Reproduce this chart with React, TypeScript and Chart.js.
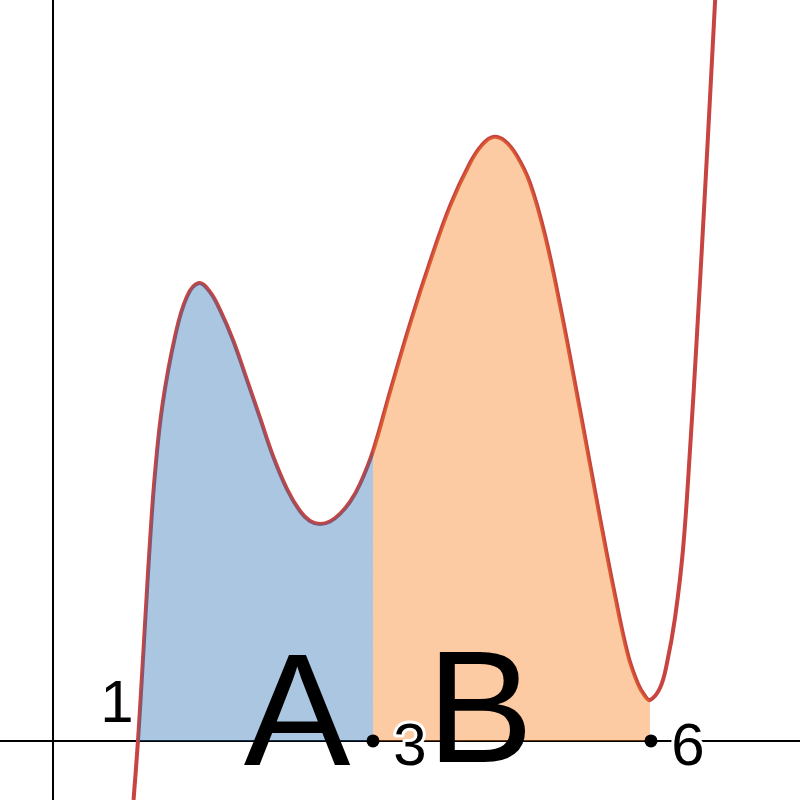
import { useEffect, useRef } from "react";
import { Chart, registerables } from "chart.js";

Chart.register(...registerables);

// Curve (data units: x=3 and x=6 at the two marked dots, equal y units)
const curveX = [
  0.416, 0.464, 0.507, 0.55, 0.594, 0.648, 0.728, 0.863, 0.993, 1.122, 1.241, 1.349,
  1.489, 1.64, 1.781, 1.921, 2.072, 2.212, 2.32, 2.428, 2.536, 2.644, 2.752, 2.86,
  3.0, 3.183, 3.399, 3.615, 3.831, 4.047, 4.176, 4.295, 4.424, 4.554, 4.694, 4.856,
  5.018, 5.234, 5.45, 5.611, 5.752, 5.86, 5.935, 5.989, 6.097, 6.173, 6.259, 6.345,
  6.421, 6.496, 6.572, 6.647, 6.712,
];
const curveY = [
  -0.637, 0, 0.701, 1.435, 2.158, 2.892, 3.626, 4.36, 4.797, 4.942, 4.845, 4.651,
  4.327, 3.896, 3.486, 3.075, 2.719, 2.482, 2.374, 2.342, 2.369, 2.45, 2.579, 2.773,
  3.129, 3.766, 4.5, 5.169, 5.773, 6.237, 6.431, 6.518, 6.475, 6.313, 6.021, 5.46,
  4.705, 3.572, 2.406, 1.576, 0.928, 0.615, 0.486, 0.442, 0.572, 0.842, 1.327, 2.061,
  3.14, 4.381, 5.73, 7.133, 8.374,
];

// Shaded regions (x bounds)
const regionA = [0.464, 3.0];
const regionB = [3.0, 5.989];

// Marked points on the x-axis
const markerX = [3, 6];

// Text labels
const labelTexts = ["1", "A", "3", "B", "6"];
const labelX = [0.237, 2.18, 3.399, 4.155, 6.399];
const labelY = [0.205, -0.259, -0.259, -0.227, -0.259];
const labelSizes = [60, 160, 60, 160, 60];
const labelHalo = [true, false, true, false, true];

// View window
const X_MIN = -1.025;
const X_MAX = 7.608;
const Y_MIN = -0.637;
const Y_MAX = 7.996;
const Y_AXIS_X = -0.453;

const curvePoints = curveX.map((x, i) => ({ x, y: curveY[i] }));
const regionPoints = (lo: number, hi: number) =>
  curvePoints.filter((p) => p.x >= lo - 1e-9 && p.x <= hi + 1e-9);

const labelPlugin = {
  id: "labels",
  afterDatasetsDraw(chart: any) {
    const { ctx, scales } = chart;
    ctx.save();
    ctx.textAlign = "center";
    ctx.textBaseline = "alphabetic";
    labelTexts.forEach((t, i) => {
      const px = scales.x.getPixelForValue(labelX[i]);
      const py = scales.y.getPixelForValue(labelY[i]);
      ctx.font = `${labelSizes[i]}px "Liberation Sans", Arial, sans-serif`;
      if (labelHalo[i]) {
        ctx.lineWidth = 6;
        ctx.lineJoin = "round";
        ctx.strokeStyle = "#ffffff";
        ctx.strokeText(t, px, py);
      }
      ctx.fillStyle = "#000000";
      ctx.fillText(t, px, py);
    });
    ctx.restore();
  },
};

export default function App() {
  const ref = useRef<HTMLCanvasElement>(null);

  useEffect(() => {
    if (!ref.current) return;
    const smooth = { tension: 0.4, cubicInterpolationMode: "default" as const };
    const chart = new Chart(ref.current, {
      type: "line",
      data: {
        datasets: [
          {
            label: "markers",
            type: "scatter",
            data: markerX.map((x) => ({ x, y: 0 })),
            pointRadius: 6.5,
            pointBackgroundColor: "#000000",
            pointBorderWidth: 0,
            showLine: false,
            order: -1,
          } as any,
          {
            label: "A",
            data: regionPoints(regionA[0], regionA[1]),
            borderColor: "transparent",
            borderWidth: 0,
            backgroundColor: "rgba(45,112,179,0.4)",
            fill: "origin",
            pointRadius: 0,
            ...smooth,
            order: 0,
          },
          {
            label: "B",
            data: regionPoints(regionB[0], regionB[1]),
            borderColor: "transparent",
            borderWidth: 0,
            backgroundColor: "rgba(250,126,25,0.4)",
            fill: "origin",
            pointRadius: 0,
            ...smooth,
            order: 0,
          },
          {
            label: "f",
            data: curvePoints,
            borderColor: "#c74440",
            borderWidth: 4,
            fill: false,
            pointRadius: 0,
            ...smooth,
            order: 1,
          },
          {
            label: "xaxis",
            data: [
              { x: X_MIN, y: 0 },
              { x: X_MAX, y: 0 },
            ],
            borderColor: "#000000",
            borderWidth: 2,
            pointRadius: 0,
            fill: false,
            order: 2,
          },
          {
            label: "yaxis",
            data: [
              { x: Y_AXIS_X, y: Y_MIN },
              { x: Y_AXIS_X, y: Y_MAX },
            ],
            borderColor: "#000000",
            borderWidth: 2,
            pointRadius: 0,
            fill: false,
            order: 2,
          },
        ],
      },
      options: {
        animation: false,
        responsive: false,
        maintainAspectRatio: false,
        devicePixelRatio: 1,
        layout: { padding: 0, autoPadding: false },
        plugins: {
          legend: { display: false },
          tooltip: { enabled: false },
        },
        events: [],
        scales: {
          x: { type: "linear", min: X_MIN, max: X_MAX, display: false },
          y: { type: "linear", min: Y_MIN, max: Y_MAX, display: false },
        },
      },
      plugins: [labelPlugin],
    });
    return () => chart.destroy();
  }, []);

  return (
    <div style={{ position: "fixed", left: 0, top: 0, width: 800, height: 800, background: "#fff" }}>
      <canvas ref={ref} width={800} height={800} style={{ display: "block" }} />
    </div>
  );
}
